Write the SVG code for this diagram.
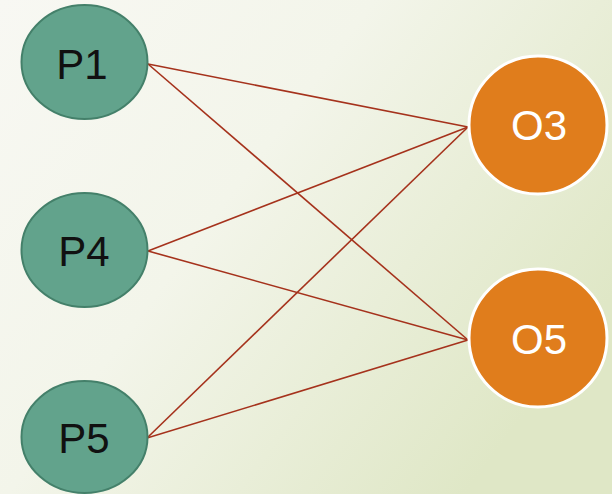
<svg xmlns="http://www.w3.org/2000/svg" width="612" height="494" viewBox="0 0 612 494">
<defs>
<linearGradient id="bg" x1="0" y1="0" x2="1" y2="0.6">
<stop offset="0" stop-color="#f8f8f3"/>
<stop offset="0.45" stop-color="#f3f5ea"/>
<stop offset="1" stop-color="#dfe7c6"/>
</linearGradient>
<style>
.p{fill:#62a38c;stroke:#44806a;stroke-width:2}
.o{fill:#e07d1c;stroke:#ffffff;stroke-width:3}
.pt{font-family:"Liberation Sans",Arial,sans-serif;font-size:42px;fill:#111111;text-anchor:middle}
.ot{font-family:"Liberation Sans",Arial,sans-serif;font-size:42px;fill:#ffffff;text-anchor:middle}
.e{stroke:#a5321c;stroke-width:1.6;fill:none}
</style>
</defs>
<rect width="612" height="494" fill="url(#bg)"/>
<g id="connectors">
<line class="e" x1="148" y1="64" x2="468" y2="127"/>
<line class="e" x1="148" y1="64" x2="468" y2="340"/>
<line class="e" x1="148" y1="251" x2="468" y2="127"/>
<line class="e" x1="148" y1="251" x2="468" y2="340"/>
<line class="e" x1="147" y1="438" x2="468" y2="127"/>
<line class="e" x1="147" y1="438" x2="468" y2="340"/>
</g>
<g id="P1"><ellipse class="p" cx="84.5" cy="62" rx="63" ry="57"/><text class="pt" x="82" y="79">P1</text></g>
<g id="P4"><ellipse class="p" cx="84.5" cy="250" rx="63" ry="57"/><text class="pt" x="84" y="266">P4</text></g>
<g id="P5"><ellipse class="p" cx="84.5" cy="437" rx="63" ry="56"/><text class="pt" x="84" y="453">P5</text></g>
<g id="O3"><circle class="o" cx="538" cy="125" r="69"/><text class="ot" x="539" y="140">O3</text></g>
<g id="O5"><circle class="o" cx="538" cy="338" r="69"/><text class="ot" x="539" y="354">O5</text></g>
</svg>
